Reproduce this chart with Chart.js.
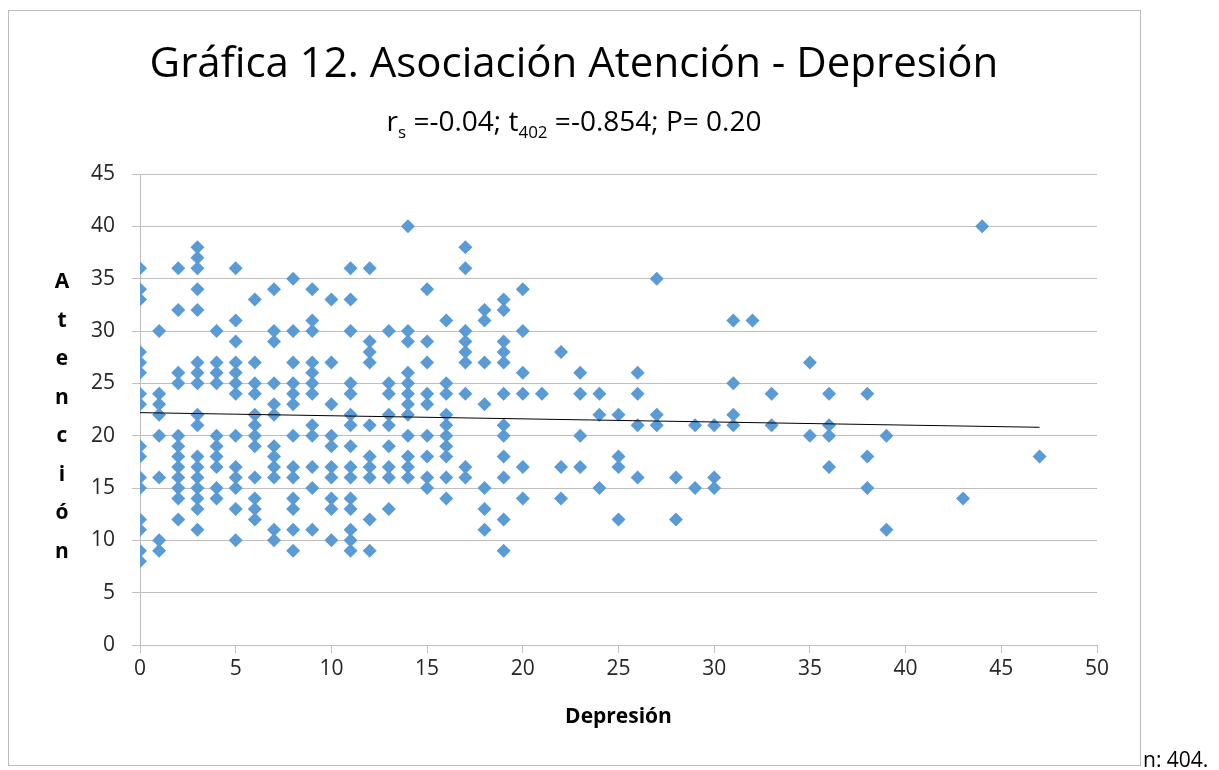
<!DOCTYPE html>
<html>
<head>
<meta charset="utf-8">
<script src="https://cdn.jsdelivr.net/npm/chart.js@4/dist/chart.umd.min.js"></script>
<style>
  body { margin: 0; background: #fff; font-family: "Open Sans", sans-serif; }
  #wrap { position: relative; width: 1219px; height: 770px; overflow: hidden; }
  #frame { position: absolute; left: 8px; top: 10px; width: 1131px; height: 754px; border: 1.5px solid #bcbcbc; }
  #chart { position: absolute; left: 0; top: 0; }
  .txt { position: absolute; line-height: 1; color: #000; white-space: nowrap; }
  #title { left: 8px; width: 1132px; top: 40px; text-align: center; font-size: 42px; }
  #sub { left: 8px; width: 1132px; top: 106px; text-align: center; font-size: 28px; }
  #sub sub { font-size: 17px; vertical-align: -7px; line-height: 0; }
  #ytitle { left: 42px; width: 40px; top: 261px; text-align: center; font-size: 21px; font-weight: bold; line-height: 38.5px; }
  #nnote { left: 1143px; top: 749px; font-size: 21px; }
</style>
</head>
<body>
<div id="wrap">
  <div id="frame"></div>
  <canvas id="chart" width="1219" height="770"></canvas>
  <div class="txt" id="title">Gráfica 12. Asociación Atención - Depresión</div>
  <div class="txt" id="sub">r<sub>s</sub> =-0.04; t<sub>402</sub> =-0.854; P= 0.20</div>
  <div class="txt" id="ytitle">A<br>t<br>e<br>n<br>c<br>i<br>ó<br>n</div>
  <div class="txt" id="nnote">n: 404.</div>
</div>
<script>
// Depresión (x) por columna, y los valores de Atención de cada columna
const depresion = [0, 1, 2, 3, 4, 5, 6, 7, 8, 9, 10, 11, 12, 13, 14, 15, 16, 17, 18, 19, 20,
  21, 22, 23, 24, 25, 26, 27, 28, 29, 30, 31, 32, 33, 35, 36, 38, 39, 43, 44, 47];
const atencion = [
  [36, 34, 33, 28, 27, 26, 24, 23, 19, 18, 16, 15, 12, 11, 9, 8],
  [30, 24, 23, 22, 20, 16, 10, 9],
  [36, 32, 26, 25, 20, 19, 18, 17, 16, 15, 14, 12],
  [38, 37, 36, 34, 32, 27, 26, 25, 22, 21, 18, 17, 16, 15, 14, 13, 11],
  [30, 27, 26, 25, 20, 19, 18, 17, 15, 14],
  [36, 31, 29, 27, 26, 25, 24, 20, 17, 16, 15, 13, 10],
  [33, 27, 25, 24, 22, 21, 20, 19, 16, 14, 13, 12],
  [34, 30, 29, 25, 23, 22, 19, 18, 17, 16, 11, 10],
  [35, 30, 27, 25, 24, 23, 20, 17, 16, 14, 13, 11, 9],
  [34, 31, 30, 27, 26, 25, 24, 21, 20, 17, 15, 11],
  [33, 27, 23, 20, 19, 17, 16, 14, 13, 10],
  [36, 33, 30, 25, 24, 22, 21, 19, 17, 16, 14, 13, 11, 10, 9],
  [36, 29, 28, 27, 21, 18, 17, 16, 12, 9],
  [30, 25, 24, 22, 21, 19, 17, 16, 13],
  [40, 30, 29, 26, 25, 24, 23, 22, 20, 18, 17, 16],
  [34, 29, 27, 24, 23, 20, 18, 16, 15],
  [31, 25, 24, 22, 21, 20, 19, 18, 16, 14],
  [38, 36, 30, 29, 28, 27, 24, 17, 16],
  [32, 31, 27, 23, 15, 13, 11],
  [33, 32, 29, 28, 27, 24, 21, 20, 18, 16, 12, 9],
  [34, 30, 26, 24, 17, 14],
  [24],
  [28, 17, 14],
  [26, 24, 20, 17],
  [24, 22, 15],
  [22, 18, 17, 12],
  [26, 24, 21, 16],
  [35, 22, 21],
  [16, 12],
  [21, 15],
  [21, 16, 15],
  [31, 25, 22, 21],
  [31],
  [24, 21],
  [27, 20],
  [24, 21, 20, 17],
  [24, 18, 15],
  [20, 11],
  [14],
  [40],
  [18]
];
// línea de tendencia (extremos)
const trendX = [0, 47];
const trendY = [22.2, 20.8];

const points = [];
depresion.forEach((x, i) => atencion[i].forEach(y => points.push({ x, y })));
const trend = trendX.map((x, i) => ({ x, y: trendY[i] }));

const gridGray = '#bfbfbf';
const tickFont = { family: '"Open Sans", sans-serif', size: 21 };

new Chart(document.getElementById('chart'), {
  type: 'scatter',
  data: {
    datasets: [
      { type: 'line', data: trend, borderColor: '#000', borderWidth: 1, pointRadius: 0, fill: false, order: 0 },
      { data: points, pointStyle: 'rectRot', pointRadius: 7, pointBackgroundColor: '#5b9bd5', pointBorderWidth: 0, order: 1 },
    ],
  },
  options: {
    responsive: false, animation: false,
    layout: { padding: { left: 0, top: 174, right: 122, bottom: 40 } },
    plugins: { legend: { display: false }, tooltip: { enabled: false } },
    scales: {
      x: {
        type: 'linear', min: 0, max: 50,
        afterFit: (s) => { s.height = 85; },
        ticks: { stepSize: 5, font: tickFont, color: '#262626', padding: 3, maxRotation: 0 },
        grid: { drawOnChartArea: false, drawTicks: true, tickLength: 8, color: gridGray },
        border: { color: gridGray },
        title: { display: true, text: 'Depresión', color: '#000', font: { family: '"Open Sans", sans-serif', size: 21, weight: 'bold' }, padding: 0 },
      },
      y: {
        min: 0, max: 45,
        afterFit: (s) => { s.width = 140; },
        ticks: { stepSize: 5, font: tickFont, color: '#262626', padding: 17 },
        grid: { color: gridGray, tickLength: 8 },
        border: { color: gridGray },
      },
    },
  },
});
</script>
</body>
</html>
